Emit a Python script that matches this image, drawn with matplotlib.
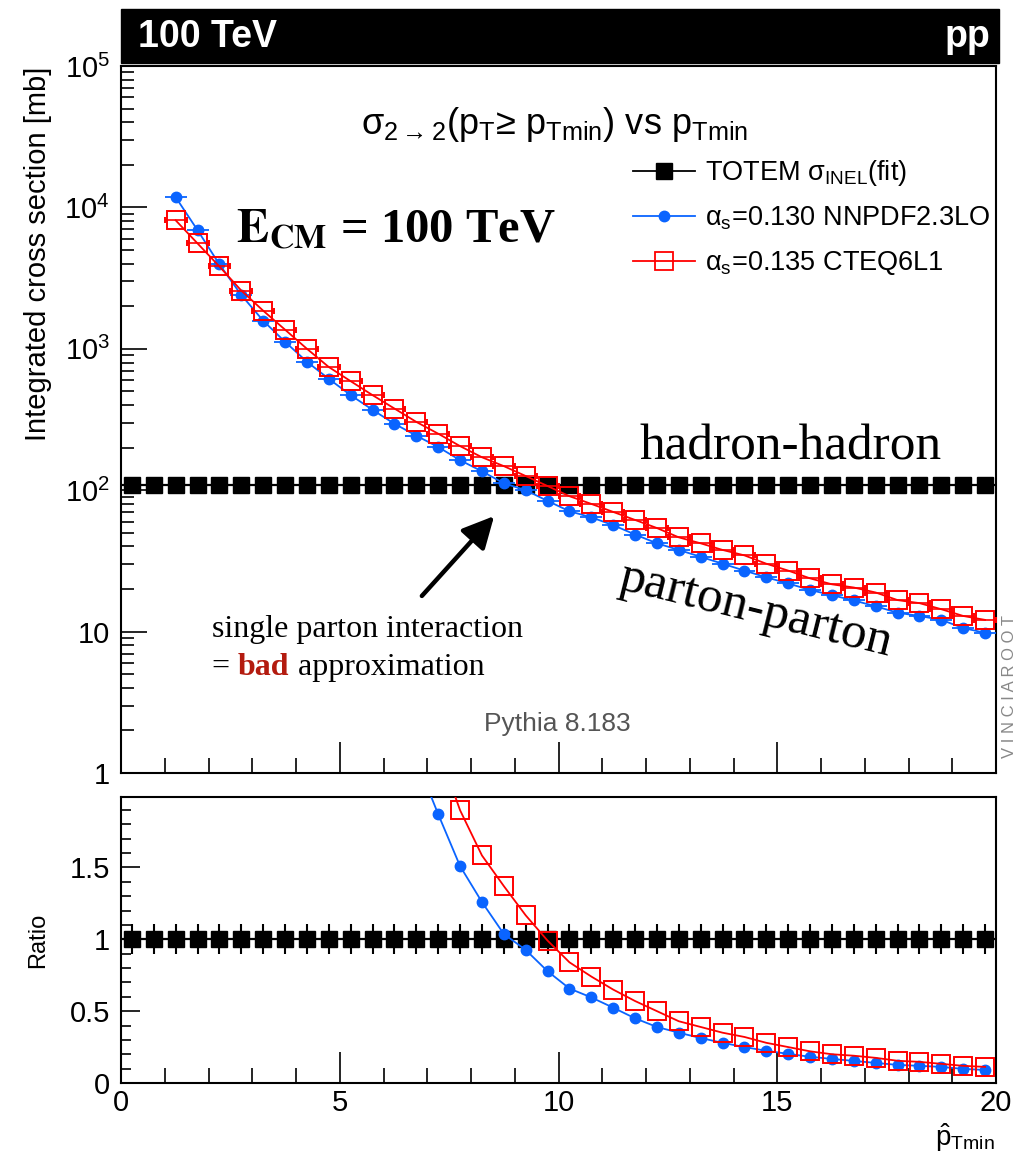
import numpy as np
import matplotlib
matplotlib.use("Agg")
import matplotlib.pyplot as plt
from matplotlib.lines import Line2D
from matplotlib.patches import Rectangle, FancyArrowPatch
from matplotlib.ticker import FixedLocator, FuncFormatter, LogLocator, MultipleLocator, NullFormatter

plt.rcParams['font.family'] = ['Liberation Sans', 'DejaVu Sans']
plt.rcParams['mathtext.fontset'] = 'custom'
plt.rcParams['mathtext.rm'] = 'Liberation Sans'
plt.rcParams['mathtext.it'] = 'Liberation Sans:italic'
plt.rcParams['mathtext.bf'] = 'Liberation Sans:bold'
plt.rcParams['mathtext.sf'] = 'Liberation Sans'

# pTmin bin centres (bin width 0.5)
pt_bins = np.arange(0.25, 20.0, 0.5)

# TOTEM inelastic cross section fit at 100 TeV [mb]
sigma_inel = 108.0
sigma_inel_err = 0.105 * sigma_inel

# integrated 2->2 cross section, first point at pTmin = 1.25
pt_curves = pt_bins[2:]
sigma_nnpdf = [11800, 6900, 3950, 2400, 1580, 1120, 810, 613, 470, 370,
               295, 243, 202, 163, 136, 112, 100, 84, 71, 64.3,
               56.6, 48.6, 42.1, 37.8, 33.8, 30.2, 27.0, 24.2, 21.9, 19.7,
               18.1, 16.6, 15.1, 13.6, 12.9, 12.1, 10.6, 9.8]
sigma_cteq = [8100, 5560, 3820, 2580, 1860, 1365, 1000, 743, 590, 470,
              378, 304, 251, 205, 171, 148, 126, 107, 90.7, 80,
              70.2, 61.6, 54, 46.4, 42.1, 37.8, 34.6, 30.2, 27.0, 23.8,
              21.6, 20.5, 18.9, 16.7, 15.9, 14.4, 12.9, 12.1]

totem = np.full(len(pt_bins), sigma_inel)
ratio_nnpdf = np.array(sigma_nnpdf) / sigma_inel
ratio_cteq = np.array(sigma_cteq) / sigma_inel

blue = '#0a64ff'
red = '#ff0000'

W, H = 1025, 1156
fig = plt.figure(figsize=(W / 100, H / 100), dpi=100)


def px(x, y):
    return x / W, 1 - y / H


ax = fig.add_axes([121 / W, 1 - 773 / H, 875 / W, 707 / H])
axr = fig.add_axes([121 / W, 1 - 1083 / H, 875 / W, 286 / H])

# ---- upper panel
ax.errorbar(pt_bins, totem, yerr=sigma_inel_err, fmt='s', color='black', ms=11,
            elinewidth=1.5, capsize=0, zorder=3)
ax.plot([0, 20], [sigma_inel, sigma_inel], color='black', lw=1.6, zorder=2)
ax.errorbar(pt_curves, sigma_nnpdf, xerr=0.25, fmt='-o', color=blue, ms=7.5,
            lw=1.3, elinewidth=1.3, capsize=0, zorder=4)
ax.errorbar(pt_curves, sigma_cteq, xerr=0.25, fmt='-s', color=red, mfc='none',
            mec=red, ms=13, mew=1.4, lw=1.3, elinewidth=1.2, capsize=2.5, zorder=5)

ax.set_yscale('log')
ax.set_xlim(0, 20)
ax.set_ylim(1, 1e5)
ax.yaxis.set_major_locator(FixedLocator([1, 10, 100, 1e3, 1e4, 1e5]))
ylab = {1: '1', 10: '10', 100: '$10^{2}$', 1000: '$10^{3}$', 10000: '$10^{4}$', 100000: '$10^{5}$'}
ax.yaxis.set_major_formatter(FuncFormatter(lambda v, p: ylab.get(int(round(v)), '')))
ax.yaxis.set_minor_locator(LogLocator(base=10, subs=np.arange(2, 10)))
ax.yaxis.set_minor_formatter(NullFormatter())
ax.xaxis.set_major_locator(MultipleLocator(5))
ax.xaxis.set_minor_locator(MultipleLocator(1))
ax.tick_params(axis='both', which='both', direction='in', top=False, right=False,
               labelbottom=False, width=1.2, labelsize=21, pad=8)
ax.tick_params(axis='y', which='major', length=19)
ax.tick_params(axis='y', which='minor', length=9.5)
ax.tick_params(axis='x', which='major', length=22)
ax.tick_params(axis='x', which='minor', length=11)

# ---- ratio panel
axr.errorbar(pt_bins, totem / sigma_inel, yerr=sigma_inel_err / sigma_inel, fmt='s',
             color='black', ms=11, elinewidth=1.5, capsize=0, zorder=3)
axr.plot([0, 20], [1, 1], color='black', lw=1.6, zorder=2)
axr.plot(pt_curves, ratio_nnpdf, '-o', color=blue, ms=7.5, lw=1.3, zorder=4)
axr.plot(pt_curves, ratio_cteq, '-s', color=red, mfc='none', mec=red, ms=13,
         mew=1.4, lw=1.3, zorder=5)
axr.set_xlim(0, 20)
axr.set_ylim(0, 1.99)
axr.yaxis.set_major_locator(FixedLocator([0, 0.5, 1, 1.5]))
axr.yaxis.set_major_formatter(FuncFormatter(lambda v, p: f'{v:g}'))
axr.yaxis.set_minor_locator(MultipleLocator(0.1))
axr.xaxis.set_major_locator(MultipleLocator(5))
axr.xaxis.set_minor_locator(MultipleLocator(1))
axr.tick_params(axis='both', which='both', direction='in', top=False, right=False,
                width=1.2, labelsize=21, pad=8)
axr.tick_params(axis='y', which='major', length=14)
axr.tick_params(axis='y', which='minor', length=7)
axr.tick_params(axis='x', which='major', length=22)
axr.tick_params(axis='x', which='minor', length=11)
axr.tick_params(axis='x', pad=4)

for a in (ax, axr):
    for s in a.spines.values():
        s.set_linewidth(1.5)

# header bar
fig.add_artist(Rectangle(px(121, 63), (999 - 121) / W, 54 / H, transform=fig.transFigure,
                         color='black', zorder=10))
fig.text(*px(138, 37), '100 TeV', color='white', fontsize=27, fontweight='bold',
         va='center', ha='left', zorder=11)
fig.text(*px(990, 37), 'pp', color='white', fontsize=27, fontweight='bold',
         va='center', ha='right', zorder=11)

# axis titles
fig.text(*px(38, 254), 'Integrated cross section [mb]', rotation=90, fontsize=21,
         ha='center', va='center')
fig.text(*px(38, 940), 'Ratio', rotation=90, fontsize=17, ha='center', va='center')
fig.text(*px(995, 1138), r'$\hat{\rm p}_{\rm Tmin}$', fontsize=20, ha='right', va='center')

# labels inside the upper panel
fig.text(*px(555, 125), 'σ$_{2\\rightarrow2}$(p$_{\\rm T}$≥ p$_{\\rm Tmin}$) vs p$_{\\rm Tmin}$',
         fontsize=26, ha='center', va='center')

handles = [
    Line2D([], [], color='black', marker='s', ms=11, lw=1.3),
    Line2D([], [], color=blue, marker='o', ms=7.5, lw=1.3),
    Line2D([], [], color=red, marker='s', mfc='none', mec=red, ms=13, mew=1.3, lw=1.3),
]
labels = ['TOTEM σ$_{\\rm INEL}$(fit)', 'α$_{\\rm s}$=0.130 NNPDF2.3LO',
          'α$_{\\rm s}$=0.135 CTEQ6L1']
fig.legend(handles, labels, loc='upper left', bbox_to_anchor=px(633, 158), frameon=False,
           fontsize=19.5, handlelength=2.3, handletextpad=0.35, labelspacing=0.62,
           borderpad=0, borderaxespad=0)

fig.text(*px(236, 230), r'$\mathbf{E_{CM}}$ = 100 TeV', family='Liberation Serif',
         fontweight='bold', math_fontfamily='stix', fontsize=35, ha='left', va='center')
fig.text(*px(640, 447), 'hadron-hadron', family='Liberation Serif', fontsize=37,
         ha='left', va='center')
fig.text(*px(755, 610), 'parton-parton', family='Liberation Serif', fontsize=37,
         ha='center', va='center', rotation=-14, rotation_mode='anchor')

fig.add_artist(FancyArrowPatch(px(420, 598), px(496, 514), transform=fig.transFigure,
                               arrowstyle='-|>,head_length=12,head_width=6',
                               mutation_scale=1.6, lw=3.2, color='black'))

fig.text(*px(212, 637), 'single parton interaction', family='Liberation Serif',
         fontsize=23, ha='left', va='baseline')
t2 = fig.text(*px(212, 675), '= ', family='Liberation Serif', fontsize=23,
              ha='left', va='baseline')
t3 = ax.annotate('bad', xy=(1, 0), xycoords=t2, family='Liberation Serif', fontsize=23,
                 fontweight='bold', color='#b31b0f', ha='left', va='bottom')
ax.annotate(' approximation', xy=(1, 0), xycoords=t3, family='Liberation Serif',
            fontsize=23, ha='left', va='bottom')

fig.text(*px(557, 724), 'Pythia 8.183', color='#555555', fontsize=19, ha='center',
         va='center')
fig.text(*px(1009, 687), 'V I N C I A R O O T', color='#888888', fontsize=12,
         rotation=90, ha='center', va='center')

fig.savefig('out.png', dpi=100)
